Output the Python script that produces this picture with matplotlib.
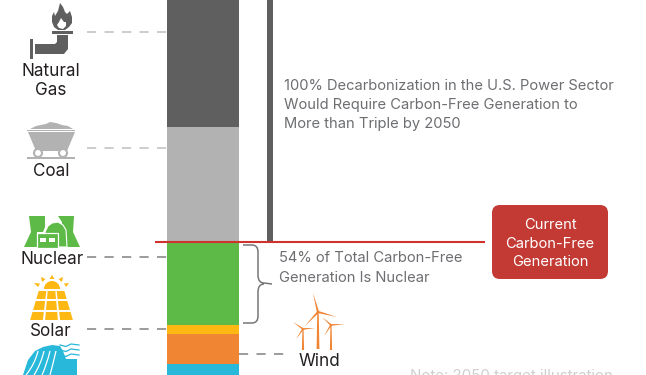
import matplotlib
matplotlib.use('Agg')
import matplotlib.pyplot as plt
from matplotlib.patches import Polygon, Rectangle, Circle, FancyBboxPatch, PathPatch, Wedge
from matplotlib.path import Path

plt.rcParams['font.family'] = ['Inter', 'DejaVu Sans']

# stacked generation column (top to bottom)
sources = ['Natural Gas', 'Coal', 'Nuclear', 'Solar', 'Wind', 'Hydro']
heights = [127, 115, 83, 9, 30, 12]
colors = ['#5f5f60', '#b2b2b2', '#5dba47', '#fdb813', '#f08534', '#27b8da']
target_height = 241
current_level = 242

fig = plt.figure(figsize=(6.46, 3.75), dpi=100)
ax = fig.add_axes([0, 0, 1, 1])
ax.set_xlim(0, 646)
ax.set_ylim(375, 0)
ax.axis('off')

# column
bottom = 0
for h, c in zip(heights, colors):
    ax.bar(203, h, width=72, bottom=bottom, color=c, linewidth=0, zorder=2)
    bottom += h

# thin target bar and current level line
ax.bar(270, target_height, width=6, bottom=0, color='#5f5f60', linewidth=0)
ax.plot([155, 485], [current_level, current_level], color='#d0332e', lw=1.5, zorder=3, solid_capstyle='butt')

# leader lines
dash = (0, (5.5, 5))
ax.plot([87, 167], [32, 32], color='#c4c4c4', lw=1.2, ls=dash)
ax.plot([87, 167], [148, 148], color='#c4c4c4', lw=1.2, ls=dash)
ax.plot([87, 167], [257, 257], color='#8a8a8a', lw=1.2, ls=dash)
ax.plot([87, 167], [329, 329], color='#8a8a8a', lw=1.2, ls=dash)
ax.plot([239, 288], [354, 354], color='#8a8a8a', lw=1.2, ls=dash)

# source labels
label_kw = dict(ha='center', va='center', color='#231f20', fontsize=12.3)
ax.text(51, 71.5, 'Natural', **label_kw)
ax.text(51, 90.5, 'Gas', **label_kw)
ax.text(51, 171.5, 'Coal', **label_kw)
ax.text(52, 259, 'Nuclear', **label_kw)
ax.text(51, 332, 'Solar', **label_kw)
ax.text(319, 362, 'Wind', **label_kw)

# annotations
note_kw = dict(ha='left', va='center', color='#6d6e71', fontsize=10.6)
ax.text(284, 86, '100% Decarbonization in the U.S. Power Sector', **note_kw)
ax.text(284, 105, 'Would Require Carbon-Free Generation to', **note_kw)
ax.text(284, 124, 'More than Triple by 2050', **note_kw)
ax.text(279, 258, '54% of Total Carbon-Free', **note_kw)
ax.text(279, 278, 'Generation Is Nuclear', **note_kw)
ax.text(511, 376, 'Note: 2050 target illustration', ha='center', va='center', color='#cfcfcf', fontsize=10.8)

# bracket
verts = [(243, 245), (252, 245), (258, 245), (258, 252), (258, 275), (258, 283), (264, 283), (272, 284),
         (264, 284), (258, 284), (258, 292), (258, 316), (258, 323), (252, 323), (243, 323)]
codes = [Path.MOVETO, Path.LINETO, Path.CURVE3, Path.CURVE3, Path.LINETO, Path.CURVE3, Path.CURVE3, Path.LINETO,
         Path.MOVETO, Path.CURVE3, Path.CURVE3, Path.LINETO, Path.CURVE3, Path.CURVE3, Path.LINETO]
ax.add_patch(PathPatch(Path(verts, codes), fc='none', ec='#777777', lw=1.1))

# red box
ax.add_patch(FancyBboxPatch((500, 213), 100, 58, boxstyle='round,pad=8,rounding_size=8', fc='#c23a33', ec='none'))
box_kw = dict(ha='center', va='center', color='white', fontsize=10.6)
ax.text(550, 225, 'Current', **box_kw)
ax.text(550, 243.5, 'Carbon-Free', **box_kw)
ax.text(550, 262, 'Generation', **box_kw)

# natural gas icon
gas = '#5f5f60'
ax.add_patch(Polygon([(60, 3), (63, 7), (65, 12), (67, 14), (70, 11), (72, 17), (72, 23), (69, 27), (65, 30),
                      (58, 30), (54, 27), (52, 22), (52, 16), (54, 12), (55, 16), (58, 11)], fc=gas, ec='none'))
ax.add_patch(Polygon([(61, 18), (64, 22), (66, 22), (66, 26), (63, 29), (59, 28), (57, 25), (59, 22)], fc='white', ec='none'))
ax.add_patch(Rectangle((52, 30.5), 21, 3, fc=gas, ec='none'))
ax.add_patch(Polygon([(35, 44), (55, 44), (57, 42), (57, 35), (68, 35), (68, 49), (64, 54), (35, 54)], fc=gas, ec='none'))
ax.add_patch(Rectangle((30, 39), 2.5, 20, fc=gas, ec='none'))

# coal icon
coal = '#b2b2b2'
ax.add_patch(Polygon([(30, 129), (36, 126), (41, 125), (46, 124), (50, 122), (56, 123), (62, 125), (68, 126), (73, 129)], fc=coal, ec='none'))
ax.add_patch(Rectangle((27, 129.5), 48, 1.5, fc=coal, ec='none'))
ax.add_patch(Polygon([(28, 132), (75, 132), (67, 151), (36, 151)], fc=coal, ec='none'))
ax.add_patch(Rectangle((27, 157), 48, 2, fc=coal, ec='none'))
for wx in (38, 63):
    ax.add_patch(Circle((wx, 153), 4, fc='white', ec=coal, lw=1.5, zorder=3))

# nuclear icon
green = '#5dba47'
ax.add_patch(Polygon([(29, 216), (45, 216), (45, 227), (43, 232), (37, 232), (37, 247), (24, 247), (31, 232)], fc=green, ec='none'))
ax.add_patch(Polygon([(58, 216), (74, 216), (73, 232), (80, 247), (62, 247), (62, 222)], fc=green, ec='none'))
ax.add_patch(Polygon([(45, 247), (45, 232), (48, 226), (52, 223), (58, 222), (63, 225), (66, 230), (67, 247)],
                     fc=green, ec='white', lw=0.8, zorder=2))
ax.add_patch(Rectangle((37, 233), 21, 14.5, fc=green, ec='white', lw=0.9, zorder=3))
ax.add_patch(Rectangle((40, 238), 6, 4, fc='white', ec='none', zorder=4))
ax.add_patch(Rectangle((49, 238), 6, 4, fc='white', ec='none', zorder=4))

# solar icon
sun = '#fdb813'
ax.add_patch(Wedge((52, 289), 8, 180, 360, fc=sun, ec='none'))
rays = [((52, 275), (49.5, 279), (54.5, 279)), ((41, 277), (42, 282), (45.5, 279)), ((63, 277), (58.5, 279), (62, 282)),
        ((34, 283), (38, 287), (40, 283.5)), ((69, 283), (64, 283.5), (66, 287))]
for ray in rays:
    ax.add_patch(Polygon(ray, fc=sun, ec='none'))
row_y = [(291, 299), (301, 310), (312, 320)]
top_l, top_r, bot_l, bot_r = 38, 65, 29, 74


def edge(y, f):
    t = (y - 291) / 29
    l = top_l + (bot_l - top_l) * t
    r = top_r + (bot_r - top_r) * t
    return l + (r - l) * f


for y0, y1 in row_y:
    for k in range(3):
        g = 0.025
        ax.add_patch(Polygon([(edge(y0, k / 3 + g), y0), (edge(y0, (k + 1) / 3 - g), y0),
                              (edge(y1, (k + 1) / 3 - g), y1), (edge(y1, k / 3 + g), y1)], fc=sun, ec='none'))

# hydro icon
hydro = '#27b8da'
ax.add_patch(Polygon([(23, 375), (28, 360), (35, 351), (43, 347), (52, 345), (60, 346), (63, 351), (66, 359), (77, 359), (77, 375)], fc=hydro, ec='none'))
for x0, x1 in [(38, 26), (44, 34), (50, 42), (56, 50)]:
    ax.add_patch(PathPatch(Path([(x0, 351), (x0 - 3, 364), (x1, 375)], [Path.MOVETO, Path.CURVE3, Path.CURVE3]),
                           fc='none', ec='white', lw=0.9))
for wy in (345, 350, 355):
    ax.plot([60, 66, 71, 79], [wy, wy + 1.5, wy - 1, wy], color=hydro, lw=0.9)

# wind icon
wind = '#f08534'
turbines = [((318, 312), 349, [(313, 293), (337, 317), (305, 326)], 1.4),
            ((303, 329), 350, [(293, 322), (315, 328), (296, 339)], 1.1),
            ((331, 325), 350, [(322, 317), (345, 324), (324, 336)], 1.1)]
for hub, base, tips, w in turbines:
    ax.add_patch(Polygon([(hub[0] - w * 0.5, hub[1]), (hub[0] + w * 0.5, hub[1]),
                          (hub[0] + w, base), (hub[0] - w, base)], fc=wind, ec='none'))
    for tip in tips:
        dx, dy = tip[0] - hub[0], tip[1] - hub[1]
        n = (dx ** 2 + dy ** 2) ** 0.5
        px, py = -dy / n * w * 0.8, dx / n * w * 0.8
        ax.add_patch(Polygon([(hub[0] + px, hub[1] + py), (hub[0] - px, hub[1] - py), tip], fc=wind, ec='none'))

fig.savefig('out.png', dpi=100)
